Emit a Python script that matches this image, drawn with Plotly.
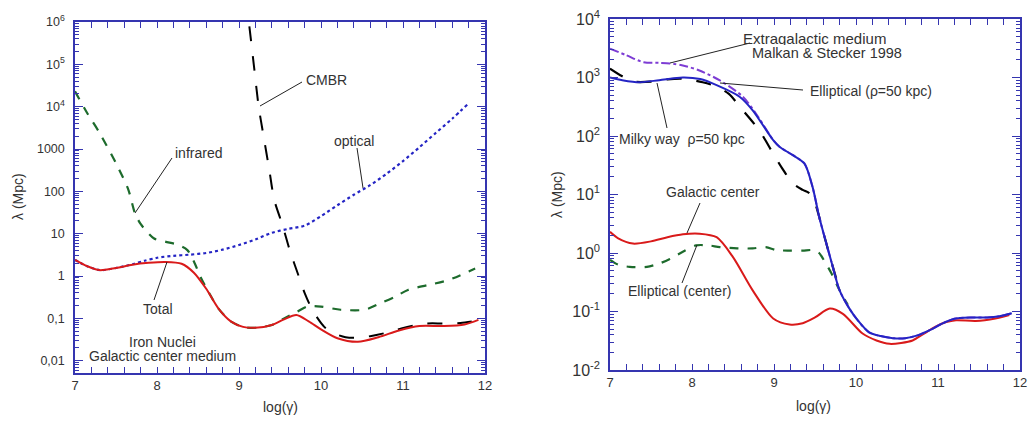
import plotly.graph_objects as go

W, H = 1029, 422

# ---------------- Left panel data (Iron nuclei, Galactic center medium) ----------------
x_total = [7.0, 7.15, 7.3, 7.5, 7.7, 7.9, 8.1, 8.3, 8.45, 8.6, 8.75, 8.9, 9.05, 9.2, 9.4,
           9.55, 9.7, 9.85, 10.0, 10.2, 10.45, 10.7, 10.95, 11.2, 11.5, 11.75, 11.92]
y_total = [2.4, 1.7, 1.38, 1.55, 1.85, 2.05, 2.15, 1.95, 1.2, 0.5, 0.17, 0.085, 0.063, 0.06, 0.07,
           0.095, 0.12, 0.085, 0.055, 0.034, 0.028, 0.036, 0.052, 0.066, 0.066, 0.072, 0.092]

x_ir = [7.0, 7.15, 7.3, 7.5, 7.65, 7.73, 7.8, 7.96, 8.1, 8.25, 8.37, 8.45, 8.53, 8.62, 8.75, 8.9,
        9.05, 9.2, 9.4, 9.55, 9.7, 9.83, 10.0, 10.24, 10.53, 10.73, 10.9, 11.06, 11.3, 11.55, 11.88]
y_ir = [2.3e4, 7000, 2400, 460, 110, 31, 17, 7.8, 6.5, 5.5, 4.1, 2.2, 0.96, 0.45, 0.17, 0.085,
        0.063, 0.06, 0.07, 0.1, 0.14, 0.19, 0.19, 0.16, 0.16, 0.23, 0.32, 0.47, 0.61, 0.8, 1.5]

x_opt = [7.0, 7.15, 7.3, 7.5, 7.7, 7.85, 8.0, 8.2, 8.4, 8.6, 8.8, 9.0, 9.2, 9.4, 9.6, 9.8,
         10.0, 10.2, 10.4, 10.6, 10.8, 11.0, 11.2, 11.4, 11.6, 11.8]
y_opt = [2.4, 1.7, 1.38, 1.55, 1.9, 2.3, 2.7, 3.0, 3.2, 3.5, 4.2, 5.4, 7.3, 10.5, 13, 15.5,
         26, 47, 83, 140, 260, 520, 1100, 2400, 5200, 1.2e4]

x_cmbr = [9.08, 9.12, 9.18, 9.24, 9.3, 9.37, 9.43, 9.53, 9.62, 9.72, 9.8, 9.88, 9.96, 10.04,
          10.15, 10.3, 10.45, 10.6, 10.78, 10.98, 11.15, 11.3, 11.5, 11.7, 11.88]
y_cmbr = [4e6, 1e6, 1e5, 1e4, 2000, 316, 63, 16, 4.0, 1.1, 0.4, 0.18, 0.1, 0.063,
          0.045, 0.036, 0.035, 0.038, 0.045, 0.058, 0.069, 0.076, 0.076, 0.078, 0.087]

# ---------------- Right panel data ----------------
x_ext = [7.0, 7.2, 7.41, 7.6, 7.73, 7.9, 8.09, 8.34, 8.62, 8.8, 8.99, 9.07, 9.23, 9.37, 9.47,
         9.55, 9.62, 9.7, 9.8, 9.92, 10.02, 10.16, 10.3, 10.45, 10.6, 10.75, 10.9, 11.05, 11.2,
         11.4, 11.6, 11.75, 11.9]
y_ext = [3100, 2400, 1820, 1780, 1740, 1590, 1320, 890, 470, 220, 85, 65, 47, 34, 13.5,
         4.2, 1.8, 0.71, 0.23, 0.112, 0.071, 0.044, 0.038, 0.035, 0.035, 0.039, 0.048, 0.062, 0.075,
         0.079, 0.079, 0.083, 0.093]

x_ell = [7.0, 7.15, 7.36, 7.6, 7.89, 8.1, 8.3, 8.58, 8.74, 8.99, 9.07, 9.23, 9.37, 9.47,
         9.55, 9.62, 9.7, 9.8, 9.92, 10.02, 10.16, 10.3, 10.45, 10.6, 10.75, 10.9, 11.05, 11.2,
         11.4, 11.6, 11.75, 11.9]
y_ell = [1000, 900, 830, 900, 1000, 940, 740, 470, 275, 85, 65, 47, 34, 13.5,
         4.2, 1.8, 0.71, 0.23, 0.112, 0.071, 0.044, 0.038, 0.035, 0.035, 0.039, 0.048, 0.062, 0.075,
         0.079, 0.079, 0.083, 0.093]

x_mw = [7.0, 7.15, 7.3, 7.5, 7.7, 7.89, 8.13, 8.3, 8.45, 8.58, 8.82, 8.99, 9.1, 9.23, 9.35,
        9.43, 9.5, 9.55, 9.62, 9.7, 9.8]
y_mw = [1420, 1050, 850, 850, 930, 950, 830, 700, 525, 320, 125, 50, 28, 15.5, 12,
        10.5, 7.1, 4.2, 1.8, 0.71, 0.23]

x_gc = [7.0, 7.1, 7.28, 7.5, 7.7, 7.89, 8.09, 8.3, 8.5, 8.74, 8.99, 9.19, 9.35, 9.5, 9.68,
        9.84, 10.08, 10.25, 10.41, 10.55, 10.69, 10.83, 10.97, 11.1, 11.22, 11.46, 11.7, 11.87]
y_gc = [2.3, 1.78, 1.45, 1.58, 1.86, 2.09, 2.14, 1.86, 0.85, 0.23, 0.076, 0.06, 0.063, 0.079, 0.112,
        0.091, 0.042, 0.032, 0.028, 0.029, 0.032, 0.042, 0.055, 0.066, 0.071, 0.069, 0.076, 0.087]

x_ec = [7.0, 7.1, 7.24, 7.45, 7.6, 7.73, 7.9, 8.05, 8.2, 8.34, 8.55, 8.74, 8.9, 9.03, 9.2,
        9.35, 9.47, 9.55, 9.6, 9.7, 9.8, 9.9]
y_ec = [0.76, 0.63, 0.58, 0.58, 0.66, 0.79, 1.07, 1.35, 1.35, 1.26, 1.2, 1.2, 1.26, 1.12, 1.1,
        1.1, 1.12, 1.0, 0.79, 0.45, 0.23, 0.13]

left_ytickvals = [0.01, 0.1, 1, 10, 100, 1000, 1e4, 1e5, 1e6]
left_yticktext = ["0,01", "0,1", "1", "10", "100", "1000", "10<sup>4</sup>", "10<sup>5</sup>", "10<sup>6</sup>"]
right_ytickvals = [0.01, 0.1, 1, 10, 100, 1000, 1e4]
right_yticktext = ["10<sup>-2</sup>", "10<sup>-1</sup>", "10<sup>0</sup>", "10<sup>1</sup>",
                   "10<sup>2</sup>", "10<sup>3</sup>", "10<sup>4</sup>"]
xtickvals = [7, 8, 9, 10, 11, 12]
minor_logvals = [m * 10.0 ** e for e in range(-3, 7) for m in range(2, 10)]

FONT = "Liberation Sans, Arial, Helvetica, sans-serif"
TXT = "#333333"
AX = "#3535b0"
RED = "#d91a1a"
GREEN = "#1d6b2c"
BLUE = "#2424c4"
PURPLE = "#7d3cd4"

fig = go.Figure()

def add(x, y, color, dash, width, xa, ya, shape="spline"):
    fig.add_trace(go.Scatter(x=x, y=y, mode="lines", xaxis=xa, yaxis=ya, showlegend=False,
                             line=dict(color=color, dash=dash, width=width, shape=shape, smoothing=0.8),
                             hoverinfo="skip"))

# left panel
add(x_cmbr, y_cmbr, "black", "longdash", 2, "x", "y")
add(x_ir, y_ir, GREEN, "dash", 2.2, "x", "y")
add(x_opt, y_opt, BLUE, "dot", 2.2, "x", "y")
add(x_total, y_total, RED, "solid", 2, "x", "y")

# right panel
add(x_ec, y_ec, GREEN, "dash", 2.2, "x2", "y2")
add(x_gc, y_gc, RED, "solid", 2, "x2", "y2")
add(x_mw, y_mw, "black", "longdash", 2.2, "x2", "y2")
add(x_ext, y_ext, PURPLE, "dashdot", 2, "x2", "y2")
add(x_ell, y_ell, BLUE, "solid", 2, "x2", "y2")

# empty traces so the minor-tick overlay axes are drawn
fig.add_trace(go.Scatter(x=[], y=[], xaxis="x", yaxis="y3", showlegend=False, hoverinfo="skip"))
fig.add_trace(go.Scatter(x=[], y=[], xaxis="x2", yaxis="y4", showlegend=False, hoverinfo="skip"))

def px(xp):
    return xp / W

def py(yp):
    return 1 - yp / H

xcommon = dict(range=[7, 12], tickvals=xtickvals, ticks="inside", ticklen=6, tickwidth=1,
               tickcolor=AX, showline=True, linecolor=AX, linewidth=1.5, mirror="allticks",
               showgrid=False, zeroline=False, ticklabeloverflow="allow", automargin=False,
               tickfont=dict(family=FONT, size=13, color=TXT),
               minor=dict(dtick=0.2, ticks="inside", ticklen=5, tickcolor=AX, showgrid=False))
ycommon = dict(type="log", ticks="inside", ticklen=8, tickwidth=1, tickcolor=AX, showline=True,
               linecolor=AX, linewidth=1.5, mirror="allticks", showgrid=False, zeroline=False,
               ticklabeloverflow="allow", automargin=False)
yminor = dict(type="log", ticks="inside", ticklen=4, tickwidth=1, tickcolor=AX, showline=False,
              mirror="ticks", showgrid=False, zeroline=False, showticklabels=False,
              tickmode="array", tickvals=minor_logvals, automargin=False)

L_DOM = [py(373), py(22)]
R_DOM = [py(370), py(19)]
L_RANGE = [-2.29, 6.0]
R_RANGE = [-2, 4]

fig.update_layout(
    width=W, height=H, margin=dict(l=0, r=0, t=0, b=0, pad=0, autoexpand=False),
    paper_bgcolor="white", plot_bgcolor="white",
    xaxis=dict(domain=[px(75), px(485)], anchor="y", **xcommon),
    yaxis=dict(domain=L_DOM, anchor="x", range=L_RANGE,
               tickvals=left_ytickvals, ticktext=left_yticktext, ticklabelstandoff=6,
               tickfont=dict(family=FONT, size=12.5, color=TXT), **ycommon),
    yaxis3=dict(domain=L_DOM, anchor="x", overlaying="y", range=L_RANGE, **yminor),
    xaxis2=dict(domain=[px(610), px(1020)], anchor="y2", **xcommon),
    yaxis2=dict(domain=R_DOM, anchor="x2", range=R_RANGE,
                tickvals=right_ytickvals, ticktext=right_yticktext, ticklabelstandoff=5,
                tickfont=dict(family=FONT, size=16, color=TXT), **ycommon),
    yaxis4=dict(domain=R_DOM, anchor="x2", overlaying="y2", range=R_RANGE, **yminor),
)

def label(text, x, y, size=14, xanchor="center", angle=0, height=None):
    kw = {}
    if height is not None:
        kw["height"] = height
    fig.add_annotation(text=text, x=px(x), y=py(y), xref="paper", yref="paper", showarrow=False,
                       xanchor=xanchor, yanchor="middle", textangle=angle,
                       font=dict(family=FONT, size=size, color=TXT), **kw)

def leader(x0, y0, x1, y1):
    fig.add_shape(type="line", xref="paper", yref="paper", x0=px(x0), y0=py(y0), x1=px(x1), y1=py(y1),
                  line=dict(color="#222222", width=1))

# left annotations
label("infrared", 198, 153); leader(172, 158, 135, 213)
label("CMBR", 326, 80); leader(302, 82, 260, 106)
label("optical", 354, 141); leader(357, 148, 363, 188)
label("Total", 157.5, 309); leader(154, 300, 167, 262)
label("Iron Nuclei", 162.5, 341, size=14, height=13)
label("Galactic center medium", 162, 355.5, size=14, height=13)
label("λ (Mpc)", 18, 197, angle=-90)
label("log(γ)", 280, 407)

# right annotations
label("Extragalactic medium", 741, 38, size=15, xanchor="left", height=14)
label("Malkan &amp; Stecker 1998", 750, 53, size=14.5, xanchor="left", height=14)
leader(750, 43, 670, 63)
label("Elliptical (ρ=50 kpc)", 808, 91, xanchor="left"); leader(803, 90, 720, 83)
label("Milky way  ρ=50 kpc", 617, 139, xanchor="left"); leader(667, 128, 657, 83)
label("Galactic center", 712.5, 192); leader(700, 203, 687, 233)
label("Elliptical (center)", 679.5, 291); leader(682, 283, 697, 245)
label("λ (Mpc)", 557, 195, angle=-90)
label("log(γ)", 813, 406)

# remove the browser's default page margin so the figure fills the 1029x422 window exactly
fig.write_html("out.html", config={"displayModeBar": False},
               post_script="document.body.style.margin='0';document.body.style.overflow='hidden';")
